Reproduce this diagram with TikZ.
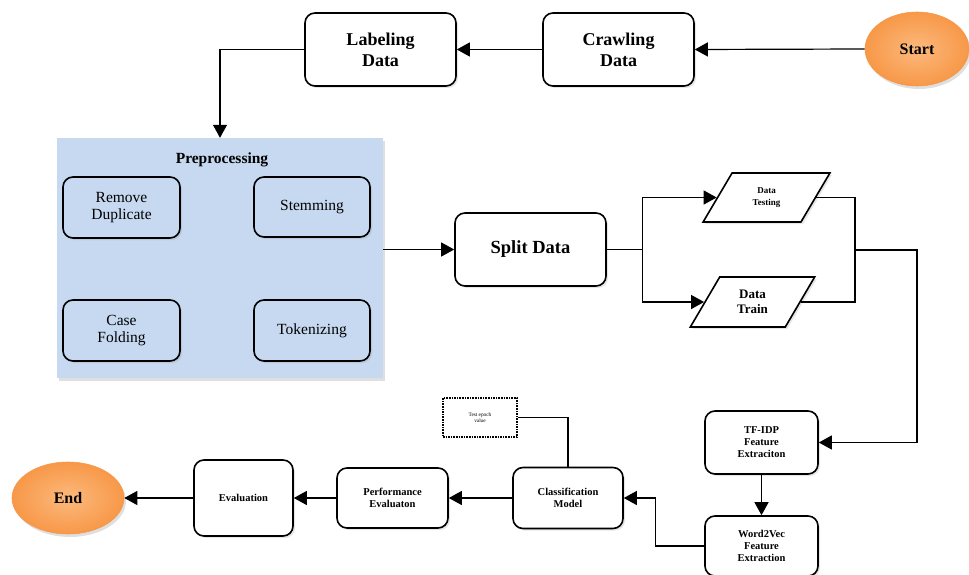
\documentclass[tikz,border=0pt]{standalone}
\usepackage{fontspec}
\setmainfont{Liberation Serif}
\usepackage{tikz}
\usepackage{xcolor}
\definecolor{lblue}{RGB}{198,217,240}
\definecolor{lorange}{RGB}{252,185,125}
\definecolor{dorange}{RGB}{247,152,72}
\usetikzlibrary{positioning, calc, shapes.geometric, shapes, arrows.meta, shadows}
\tikzstyle{Arrow} = [
line width=1.2pt,
-{Triangle[length=13pt,width=14pt]}]
\tikzstyle{Line} = [
line width=1.2pt]
\tikzstyle{Box} = [
draw,
line width=1.6pt,
rounded corners=10pt,
fill=white,
align=center,
drop shadow={opacity=0.2, shadow xshift=2pt, shadow yshift=-2pt},
font=\bfseries\fontsize{18}{21}\selectfont]
\tikzstyle{SmallBox} = [
Box,
font=\bfseries\fontsize{10.5}{12.5}\selectfont]
\tikzstyle{InnerBox} = [
Box,
fill=lblue,
drop shadow={opacity=0},
font=\fontsize{15.5}{17}\selectfont]
\tikzstyle{Para} = [
draw,
trapezium,
trapezium left angle=61,
trapezium right angle=119,
trapezium stretches=true,
line width=1.6pt,
fill=white,
align=center,
drop shadow={opacity=0.2, shadow xshift=2pt, shadow yshift=-2pt}]
\tikzstyle{Oval} = [
ellipse,
draw=dorange,
line width=0.6pt,
inner color=lorange,
outer color=dorange,
drop shadow={opacity=0.25, shadow xshift=2pt, shadow yshift=-3pt},
font=\bfseries\fontsize{16}{19}\selectfont]

\begin{document}
\begin{tikzpicture}[x=1pt, y=-1pt]
    \useasboundingbox (0,0) rectangle (969,575);

    \node [Oval, minimum width=104, minimum height=74] (1) at (917,49) {Start};
    \node [Box, minimum width=151, minimum height=73] (2) at (618.5,49.5) {Crawling\\Data};
    \node [Box, minimum width=151, minimum height=73] (3) at (380.5,49.5) {Labeling\\Data};

    \node [fill=lblue, minimum width=326, minimum height=240,
           drop shadow={opacity=0.25, shadow xshift=2pt, shadow yshift=-3pt}] (4) at (220,258) {};
    \node [font=\bfseries\fontsize{15.5}{18}\selectfont] (5) at (222,160) {Preprocessing};
    \node [InnerBox, minimum width=117, minimum height=61] (6) at (121.5,207.5) {Remove\\Duplicate};
    \node [InnerBox, minimum width=116, minimum height=60] (7) at (312,207) {Stemming};
    \node [InnerBox, minimum width=117, minimum height=61] (8) at (121.5,330.5) {Case\\Folding};
    \node [InnerBox, minimum width=116, minimum height=61] (9) at (312,330.5) {Tokenizing};

    \node [Box, minimum width=151, minimum height=73, font=\bfseries\fontsize{18.5}{21}\selectfont] (10) at (530.5,249.5) {Split Data};
    \node [Para, minimum width=127, minimum height=49, font=\bfseries\fontsize{9}{11.5}\selectfont] (11) at (766.5,197.5) {Data\\Testing};
    \node [Para, minimum width=125, minimum height=50, font=\bfseries\fontsize{13}{15}\selectfont] (12) at (752.5,302) {Data\\Train};
    \coordinate (13) at (855,250);

    \node [SmallBox, minimum width=113, minimum height=63, font=\bfseries\fontsize{10.5}{12}\selectfont] (14) at (761.5,442.5) {TF-IDP\\Feature\\Extraciton};
    \node [SmallBox, minimum width=113, minimum height=60, font=\bfseries\fontsize{10.5}{12}\selectfont] (15) at (761.5,546) {Word2Vec\\Feature\\Extraction};
    \node [SmallBox, minimum width=110, minimum height=61] (16) at (568,498) {Classification\\Model};
    \node [draw, densely dotted, line width=1.6pt, minimum width=74, minimum height=39,
           align=center, font=\fontsize{5.3}{6.3}\selectfont] (17) at (480,417.5) {Test epoch\\value};
    \node [SmallBox, minimum width=111, minimum height=60] (18) at (392.5,498) {Performance\\Evaluaton};
    \node [SmallBox, minimum width=99, minimum height=76] (19) at (243.5,498) {Evaluation};
    \node [Oval, minimum width=112, minimum height=72] (20) at (68,498) {End};

    \draw[Arrow] (1.west) -- (2.east);
    \draw[Arrow] (2.west) -- (3.east);
    \draw[Arrow] (3.west) -| (4.north);
    \draw[Arrow] (10.west -| 4.east) -- (10.west);
    \draw[Arrow] (10.east) -- ++(36,0) |- (11.west);
    \draw[Arrow] (10.east) -- ++(36,0) |- (12.west);
    \draw[Line] (11.east) -| (13);
    \draw[Line] (12.east) -| (13);
    \draw[Arrow] (13) -- ++(62,0) |- (14.east);
    \draw[Arrow] (14.south) -- (15.north);
    \draw[Arrow] (15.west) -- ++(-49,0) |- (16.east);
    \draw[Line] (16.north) |- (17.east);
    \draw[Arrow] (16.west) -- (18.east);
    \draw[Arrow] (18.west) -- (19.east);
    \draw[Arrow] (19.west) -- (20.east);
\end{tikzpicture}
\end{document}
